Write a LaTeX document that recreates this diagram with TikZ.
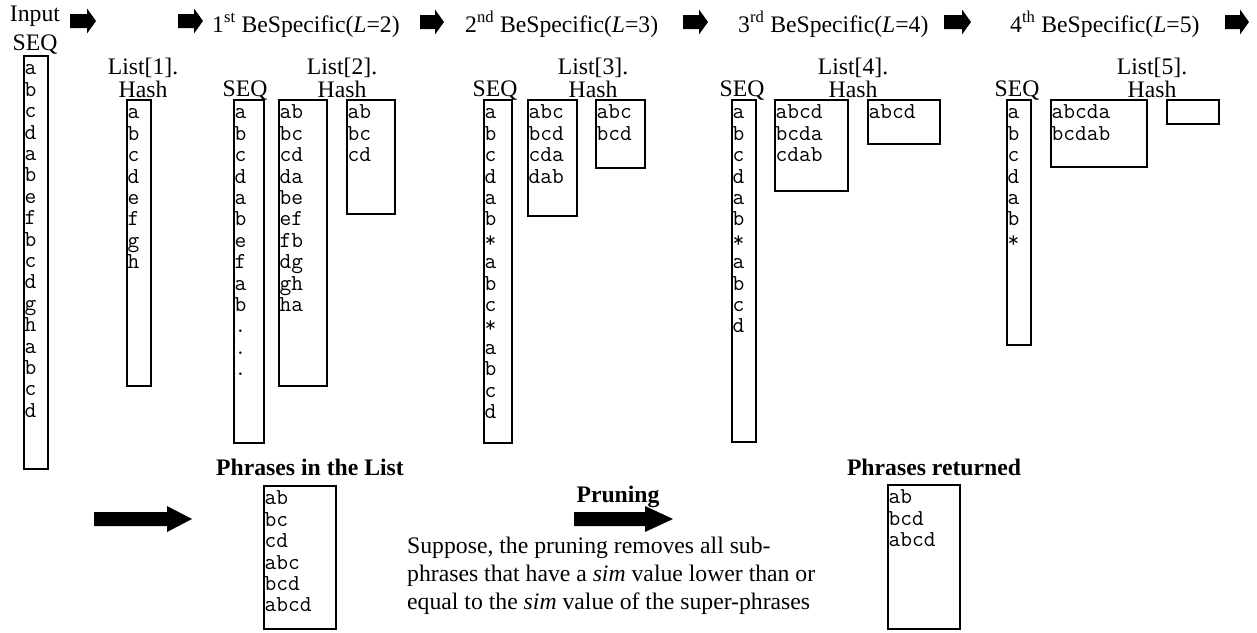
\documentclass[tikz,border=0pt]{standalone}
\usepackage{fontspec}
\setmainfont{Liberation Serif}
\newcommand\pbox[6]{%
  \node[box, anchor=north west, minimum width={#4-#2}, minimum height={#5-#3}] (#1) at (#2,#3) {};
  \node[rows] (#1t) at (#1.north west) {\rule{0pt}{19.7pt}#6};}
\newcommand\barrow[6]{%
  \fill (#1,#2-#4) -- (#3-#6,#2-#4) -- (#3-#6,#2-#5) -- (#3,#2) -- (#3-#6,#2+#5) -- (#3-#6,#2+#4) -- (#1,#2+#4) -- cycle;}
\begin{document}
\begin{tikzpicture}[x=1pt,y=-1pt,
  box/.style={draw, line width=1.6pt, inner sep=0pt},
  rows/.style={anchor=north west, inner sep=0pt, xshift=1.5pt, align=left,
    font=\ttfamily\fontsize{22.8}{21.4}\selectfont},
  lbl/.style={anchor=base, inner sep=0pt, font=\fontsize{23.7}{28.3}\selectfont},
  lblw/.style={lbl, anchor=base west},
  bl/.style={lbl, font=\fontsize{23.7}{28.3}\selectfont\bfseries}]
\useasboundingbox (0,0) rectangle (1257,632);
% top arrows
\barrow{70}{21}{96}{7}{12.5}{9}
\barrow{178}{21}{203}{7}{12.5}{9}
\barrow{420}{22}{444}{7}{12.5}{9}
\barrow{683}{22}{708}{7}{12.5}{9}
\barrow{944}{22}{971}{7}{12.5}{9}
\barrow{1225}{22}{1249}{7}{12.5}{9}
% titles
\node[lbl] (inp) at (35,21.5) {Input};
\node[lbl] (inseql) at (35,50) {SEQ};
\node[lblw] (t1) at (212,32) {1\textsuperscript{st} BeSpecific(\textit{L}=2)};
\node[lblw] (t2) at (465,32) {2\textsuperscript{nd} BeSpecific(\textit{L}=3)};
\node[lblw] (t3) at (738,32) {3\textsuperscript{rd} BeSpecific(\textit{L}=4)};
\node[lblw] (t4) at (1010,32) {4\textsuperscript{th} BeSpecific(\textit{L}=5)};
% list labels
\node[lbl] (ll1) at (143,74) {List[1].};
\node[lbl] (lh1) at (143,97) {Hash};
\node[lbl] (ll2) at (342,74) {List[2].};
\node[lbl] (lh2) at (342,97) {Hash};
\node[lbl] (ll3) at (593,74) {List[3].};
\node[lbl] (lh3) at (593,97) {Hash};
\node[lbl] (ll4) at (853,74) {List[4].};
\node[lbl] (lh4) at (853,97) {Hash};
\node[lbl] (ll5) at (1152,74) {List[5].};
\node[lbl] (lh5) at (1152,97) {Hash};
\node[lbl] (sq2) at (245,96) {SEQ};
\node[lbl] (sq3) at (495,96) {SEQ};
\node[lbl] (sq4) at (742,96) {SEQ};
\node[lbl] (sq5) at (1017,96) {SEQ};
% boxes
\pbox{inseq}{23}{55}{47}{468}{a\\b\\c\\d\\a\\b\\e\\f\\b\\c\\d\\g\\h\\a\\b\\c\\d}
\pbox{l1}{126}{99}{150}{385}{a\\b\\c\\d\\e\\f\\g\\h}
\pbox{seq2}{233}{99}{263}{442}{a\\b\\c\\d\\a\\b\\e\\f\\a\\b\\.\\.\\.}
\pbox{l2}{278}{99}{326}{385}{ab\\bc\\cd\\da\\be\\ef\\fb\\dg\\gh\\ha}
\pbox{h2}{346}{99}{394}{213}{ab\\bc\\cd}
\pbox{seq3}{483}{99}{511}{442}{a\\b\\c\\d\\a\\b\\*\\a\\b\\c\\*\\a\\b\\c\\d}
\pbox{l3}{527}{99}{576}{215}{abc\\bcd\\cda\\dab}
\pbox{h3}{595}{99}{644}{167}{abc\\bcd}
\pbox{seq4}{731}{99}{755}{441}{a\\b\\c\\d\\a\\b\\*\\a\\b\\c\\d}
\pbox{l4}{774}{99}{847}{190}{abcd\\bcda\\cdab}
\pbox{h4}{867}{99}{939}{143}{abcd}
\pbox{seq5}{1006}{99}{1030}{344}{a\\b\\c\\d\\a\\b\\*}
\pbox{l5}{1050}{99}{1146}{166}{abcda\\bcdab}
\pbox{h5}{1166}{99}{1218}{123}{}
% bottom
\barrow{94}{519}{192}{7}{13}{25}
\barrow{574}{519}{673}{7}{13}{28}
\node[bl] (pil) at (310,475) {Phrases in the List};
\node[bl] (pr) at (934,475) {Phrases returned};
\node[bl] (prun) at (618,502) {Pruning};
\pbox{phr}{263}{485}{335}{628}{ab\\bc\\cd\\abc\\bcd\\abcd}
\pbox{ret}{887}{484}{959}{628}{ab\\bcd\\abcd}
\node[lblw] (s1) at (407,553) {Suppose, the pruning removes all sub-};
\node[lblw] (s2) at (407,581.3) {phrases that have a \textit{sim} value lower than or};
\node[lblw] (s3) at (407,609.6) {equal to the \textit{sim} value of the super-phrases};
\end{tikzpicture}
\end{document}
